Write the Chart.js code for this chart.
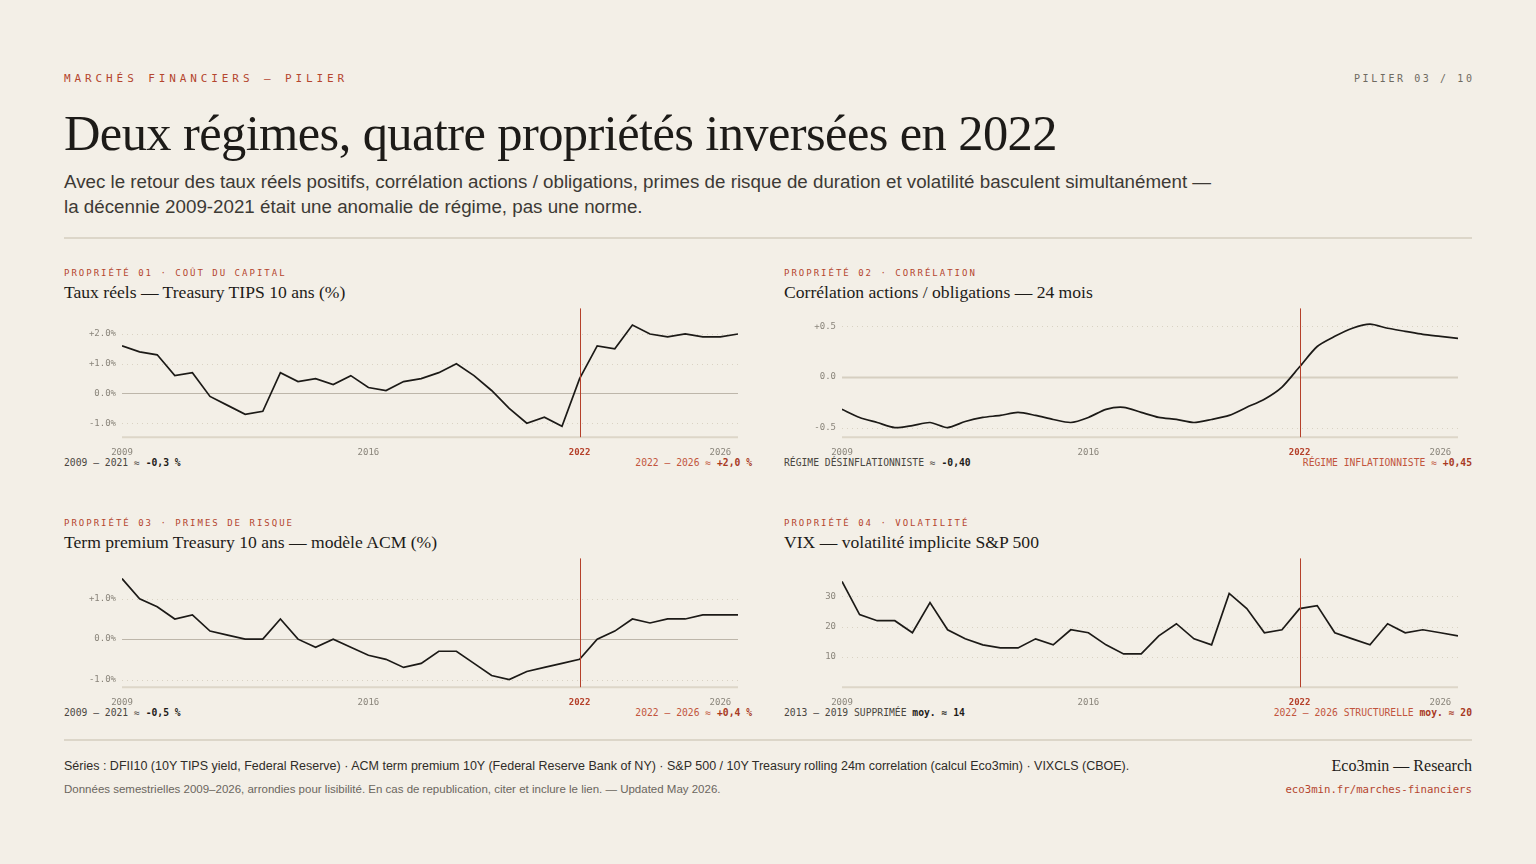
<!DOCTYPE html>
<html lang="fr">
<head>
<meta charset="utf-8">
<title>Deux régimes, quatre propriétés inversées en 2022</title>
<script src="https://cdn.jsdelivr.net/npm/chart.js@4.4.1/dist/chart.umd.min.js"></script>
<style>
  html, body { margin: 0; padding: 0; }
  body {
    width: 1536px;
    height: 864px;
    background: #f3efe7;
    color: #1d1b18;
    font-family: 'Liberation Sans', Arial, sans-serif;
    overflow: hidden;
  }
  .page { position: relative; padding: 0 64px; }
  .mono { font-family: 'DejaVu Sans Mono', monospace; }
  .top {
    display: flex;
    justify-content: space-between;
    padding-top: 72px;
    height: 14px;
    line-height: 14px;
  }
  .kicker { color: #b5462f; font-size: 11px; letter-spacing: 3.9px; }
  .pager { color: #6f6a61; font-size: 10px; letter-spacing: 2.6px; margin-right: -2.6px; }
  h1 {
    font-family: 'Liberation Serif', 'Times New Roman', serif;
    font-weight: normal;
    font-size: 50.5px;
    line-height: 60px;
    letter-spacing: -0.6px;
    margin: 17px 0 0 0;
    color: #1d1b18;
  }
  .lede {
    font-size: 18.75px;
    line-height: 25px;
    color: #3d3a35;
    margin: 6px 0 0 0;
  }
  .rule { height: 2px; background: #dcd6c9; }
  .rule.head { margin-top: 18px; }
  .grid {
    display: grid;
    grid-template-columns: 688px 688px;
    column-gap: 32px;
    row-gap: 47px;
    margin-top: 27px;
  }
  .panel-kicker {
    color: #b5462f;
    font-size: 9px;
    letter-spacing: 2px;
    height: 14px;
    line-height: 14px;
  }
  .panel-title {
    font-family: 'Liberation Serif', 'Times New Roman', serif;
    font-size: 17.6px;
    line-height: 22px;
    margin-top: 1px;
    height: 22px;
  }
  .chart-box { position: relative; height: 171px; margin-top: -6px; }
  .note {
    display: flex;
    justify-content: space-between;
    font-size: 9.7px;
    line-height: 12px;
    height: 12px;
    margin-top: -11px;
    color: #4a463f;
  }
  .note b { color: #1d1b18; }
  .note .r { color: #c2553d; }
  .note .r b { color: #a8391f; }
  .rule.foot { margin-top: 20px; }
  .footer { display: flex; justify-content: space-between; margin-top: 17px; }
  .src { font-size: 12.5px; line-height: 17px; color: #2f2c28; }
  .src small { display: block; font-size: 11.5px; color: #6b665e; margin-top: 6px; }
  .brand {
    text-align: right;
    font-family: 'Liberation Serif', 'Times New Roman', serif;
    font-size: 16px;
    line-height: 17px;
    margin-top: -1px;
  }
  .brand .mono { display: block; font-size: 10.7px; color: #b5462f; margin-top: 7px; }
</style>
</head>
<body>
<div class="page">
  <div class="top mono">
    <span class="kicker">MARCHÉS FINANCIERS — PILIER</span>
    <span class="pager">PILIER 03 / 10</span>
  </div>
  <h1>Deux régimes, quatre propriétés inversées en 2022</h1>
  <p class="lede">Avec le retour des taux réels positifs, corrélation actions / obligations, primes de risque de duration et volatilité basculent simultanément —<br>la décennie 2009-2021 était une anomalie de régime, pas une norme.</p>
  <div class="rule head"></div>

  <div class="grid">
    <div class="panel">
      <div class="panel-kicker mono">PROPRIÉTÉ 01 · COÛT DU CAPITAL</div>
      <div class="panel-title">Taux réels — Treasury TIPS 10 ans (%)</div>
      <div class="chart-box"><canvas id="c-tips"></canvas></div>
      <div class="note mono"><span>2009 – 2021 ≈ <b>-0,3 %</b></span><span class="r">2022 – 2026 ≈ <b>+2,0 %</b></span></div>
    </div>
    <div class="panel">
      <div class="panel-kicker mono">PROPRIÉTÉ 02 · CORRÉLATION</div>
      <div class="panel-title">Corrélation actions / obligations — 24 mois</div>
      <div class="chart-box"><canvas id="c-corr"></canvas></div>
      <div class="note mono"><span>RÉGIME DÉSINFLATIONNISTE ≈ <b>-0,40</b></span><span class="r">RÉGIME INFLATIONNISTE ≈ <b>+0,45</b></span></div>
    </div>
    <div class="panel">
      <div class="panel-kicker mono">PROPRIÉTÉ 03 · PRIMES DE RISQUE</div>
      <div class="panel-title">Term premium Treasury 10 ans — modèle ACM (%)</div>
      <div class="chart-box"><canvas id="c-term"></canvas></div>
      <div class="note mono"><span>2009 – 2021 ≈ <b>-0,5 %</b></span><span class="r">2022 – 2026 ≈ <b>+0,4 %</b></span></div>
    </div>
    <div class="panel">
      <div class="panel-kicker mono">PROPRIÉTÉ 04 · VOLATILITÉ</div>
      <div class="panel-title">VIX — volatilité implicite S&amp;P 500</div>
      <div class="chart-box"><canvas id="c-vix"></canvas></div>
      <div class="note mono"><span>2013 – 2019 SUPPRIMÉE <b>moy. ≈ 14</b></span><span class="r">2022 – 2026 STRUCTURELLE <b>moy. ≈ 20</b></span></div>
    </div>
  </div>

  <div class="rule foot"></div>
  <div class="footer">
    <div class="src">Séries : DFII10 (10Y TIPS yield, Federal Reserve) · ACM term premium 10Y (Federal Reserve Bank of NY) · S&amp;P 500 / 10Y Treasury rolling 24m correlation (calcul Eco3min) · VIXCLS (CBOE).<small>Données semestrielles 2009–2026, arrondies pour lisibilité. En cas de republication, citer et inclure le lien. — Updated May 2026.</small></div>
    <div class="brand">Eco3min — Research<span class="mono">eco3min.fr/marches-financiers</span></div>
  </div>
</div>

<script>
// half-year observations
const PERIODS = [
  2009, 2009.5, 2010, 2010.5, 2011, 2011.5, 2012, 2012.5, 2013, 2013.5,
  2014, 2014.5, 2015, 2015.5, 2016, 2016.5, 2017, 2017.5, 2018, 2018.5,
  2019, 2019.5, 2020, 2020.5, 2021, 2021.5, 2022, 2022.5, 2023, 2023.5,
  2024, 2024.5, 2025, 2025.5, 2026, 2026.5,
];

const TIPS_10Y = [
  1.6, 1.4, 1.3, 0.6, 0.7, -0.1, -0.4, -0.7, -0.6, 0.7,
  0.4, 0.5, 0.3, 0.6, 0.2, 0.1, 0.4, 0.5, 0.7, 1.0,
  0.6, 0.1, -0.5, -1.0, -0.8, -1.1, 0.5, 1.6, 1.5, 2.3,
  2.0, 1.9, 2.0, 1.9, 1.9, 2.0,
];

const CORR_EQ_BOND = [
  -0.32, -0.40, -0.45, -0.50, -0.48, -0.45, -0.50, -0.44, -0.40, -0.38,
  -0.35, -0.38, -0.42, -0.45, -0.40, -0.32, -0.30, -0.35, -0.40, -0.42,
  -0.45, -0.42, -0.38, -0.30, -0.22, -0.10, 0.10, 0.30, 0.40, 0.48,
  0.52, 0.48, 0.45, 0.42, 0.40, 0.38,
];

const TERM_PREMIUM = [
  1.5, 1.0, 0.8, 0.5, 0.6, 0.2, 0.1, 0.0, 0.0, 0.5,
  0.0, -0.2, 0.0, -0.2, -0.4, -0.5, -0.7, -0.6, -0.3, -0.3,
  -0.6, -0.9, -1.0, -0.8, -0.7, -0.6, -0.5, 0.0, 0.2, 0.5,
  0.4, 0.5, 0.5, 0.6, 0.6, 0.6,
];

const VIX = [
  35, 24, 22, 22, 18, 28, 19, 16, 14, 13,
  13, 16, 14, 19, 18, 14, 11, 11, 17, 21,
  16, 14, 31, 26, 18, 19, 26, 27, 18, 16,
  14, 21, 18, 19, 18, 17,
];

const X_TICKS = [2009, 2016, 2022, 2026];
const BREAK_YEAR = 2022;
const TICKS_TIPS = [-1, 0, 1, 2];
const TICKS_CORR = [-0.5, 0, 0.5];
const TICKS_TERM = [-1, 0, 1];
const TICKS_VIX = [10, 20, 30];

const INK = '#1c1a17';
const RED = '#b5402a';
const MUTED = '#8a857b';
const DOTS = '#d9d2c3';
const AXIS = '#ddd6c8';
const MONO = "'DejaVu Sans Mono', monospace";

const guides = {
  id: 'guides',
  beforeDatasetsDraw(chart, args, opts) {
    const { ctx, chartArea: a, scales: { x, y } } = chart;
    ctx.save();
    y.ticks.forEach((t) => {
      const py = Math.round(y.getPixelForValue(t.value)) + 0.5;
      ctx.beginPath();
      if (t.value === 0) {
        ctx.setLineDash([]);
        ctx.strokeStyle = opts.zeroColor;
        ctx.lineWidth = opts.zeroWidth;
      } else {
        ctx.setLineDash([1, 4]);
        ctx.strokeStyle = DOTS;
        ctx.lineWidth = 1;
      }
      ctx.moveTo(a.left, py);
      ctx.lineTo(a.right, py);
      ctx.stroke();
    });
    ctx.setLineDash([]);
    ctx.beginPath();
    ctx.strokeStyle = AXIS;
    ctx.lineWidth = 2;
    ctx.moveTo(a.left, a.bottom);
    ctx.lineTo(a.right, a.bottom);
    ctx.stroke();
    ctx.restore();
  },
  afterDatasetsDraw(chart) {
    const { ctx, chartArea: a, scales: { x } } = chart;
    const px = Math.round(x.getPixelForValue(BREAK_YEAR)) + 0.5;
    ctx.save();
    ctx.beginPath();
    ctx.strokeStyle = RED;
    ctx.lineWidth = 1;
    ctx.moveTo(px, a.top);
    ctx.lineTo(px, a.bottom);
    ctx.stroke();
    ctx.restore();
  },
};

const makeChart = (id, values, cfg) => {
  let points = PERIODS.map((p, i) => ({ x: p, y: values[i] }));
  return new Chart(document.getElementById(id), {
    type: 'line',
    data: {
      datasets: [{
        data: points,
        borderColor: INK,
        borderWidth: 1.7,
        pointRadius: 0,
        tension: cfg.tension || 0,
        fill: false,
      }],
    },
    options: {
      responsive: true,
      maintainAspectRatio: false,
      animation: false,
      layout: { padding: { top: 0, right: 14, left: 0, bottom: 0 } },
      plugins: {
        legend: { display: false },
        tooltip: { enabled: false },
        guides: { zeroColor: cfg.zeroColor || '#bdb6aa', zeroWidth: cfg.zeroWidth || 1 },
      },
      scales: {
        x: {
          type: 'linear',
          min: PERIODS[0],
          max: PERIODS[PERIODS.length - 1],
          grid: { display: false, drawTicks: false },
          border: { display: false },
          afterBuildTicks: (scale) => {
            scale.ticks = X_TICKS.map((v) => ({ value: v }));
          },
          ticks: {
            autoSkip: false,
            maxRotation: 0,
            padding: 10,
            callback: (v) => String(v),
            color: (c) => (c.tick && c.tick.value === BREAK_YEAR ? RED : MUTED),
            font: (c) => ({
              family: MONO,
              size: 9,
              weight: c.tick && c.tick.value === BREAK_YEAR ? 'bold' : 'normal',
            }),
          },
        },
        y: {
          min: cfg.min,
          max: cfg.max,
          grid: { display: false, drawTicks: false },
          border: { display: false },
          afterBuildTicks: (scale) => {
            scale.ticks = cfg.ticks.map((v) => ({ value: v }));
          },
          afterFit: (scale) => {
            scale.width = 58;
          },
          ticks: {
            padding: 6,
            color: MUTED,
            font: { family: MONO, size: 9 },
            callback: cfg.format,
          },
        },
      },
    },
    plugins: [guides],
  });
};

const pct = (v) => (v > 0 ? '+' : '') + v.toFixed(1) + '%';
const signed = (v) => (v > 0 ? '+' : '') + v.toFixed(1);

makeChart('c-tips', TIPS_10Y, { min: -1.47, max: 2.86, ticks: TICKS_TIPS, format: pct });
makeChart('c-corr', CORR_EQ_BOND, {
  min: -0.595, max: 0.676, ticks: TICKS_CORR, format: signed,
  tension: 0.25, zeroColor: '#d6cfc1', zeroWidth: 2,
});
makeChart('c-term', TERM_PREMIUM, { min: -1.19, max: 2.0, ticks: TICKS_TERM, format: pct });
makeChart('c-vix', VIX, { min: 0, max: 42.6, ticks: TICKS_VIX, format: (v) => String(v) });
</script>
</body>
</html>
